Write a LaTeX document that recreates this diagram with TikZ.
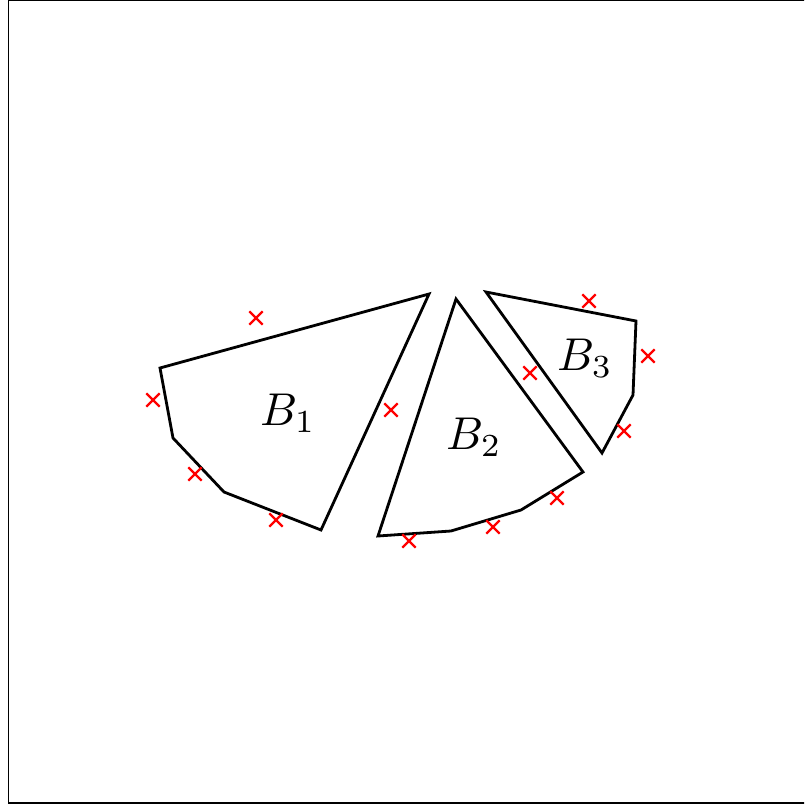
\documentclass[tikz,border=0pt]{standalone}
\usetikzlibrary{shapes.misc}
\begin{document}
\begin{tikzpicture}[x=1pt,y=-1pt,
  poly/.style={draw=black,line width=2.8pt,line join=miter},
  xmark/.style={cross out,draw=red,line width=2.3pt,minimum size=11pt,inner sep=0pt},
  lbl/.style={scale=4.6,inner sep=0pt}]
\useasboundingbox (0,0) rectangle (804,805);
\begin{scope}
\clip (0,0) rectangle (804,805);
\draw[line width=1.3pt] (8.7,0.7) rectangle (820,803);
\end{scope}
% B1
\coordinate (a1) at (160,368);
\coordinate (a2) at (429,294);
\coordinate (a3) at (321,530);
\coordinate (a4) at (224,492);
\coordinate (a5) at (173,438);
\draw[poly] (a1) -- (a2) -- (a3) -- (a4) -- (a5) -- cycle;
% B2
\coordinate (b1) at (456,299);
\coordinate (b2) at (583,472);
\coordinate (b3) at (521,510);
\coordinate (b4) at (451,531);
\coordinate (b5) at (378,536);
\draw[poly] (b1) -- (b2) -- (b3) -- (b4) -- (b5) -- cycle;
% B3
\coordinate (c1) at (486,292);
\coordinate (c2) at (636,321);
\coordinate (c3) at (633,395);
\coordinate (c4) at (602,453);
\draw[poly] (c1) -- (c2) -- (c3) -- (c4) -- cycle;
% labels
\node[lbl] (L1) at (288,413) {$B_1$};
\node[lbl] (L2) at (474,437) {$B_2$};
\node[lbl] (L3) at (585,358) {$B_3$};
% crosses
\node[xmark] (x1) at (256,318) {};
\node[xmark] (x2) at (153,400) {};
\node[xmark] (x3) at (195,474) {};
\node[xmark] (x4) at (276,520) {};
\node[xmark] (x5) at (391,410) {};
\node[xmark] (x6) at (409,541) {};
\node[xmark] (x7) at (493,527) {};
\node[xmark] (x8) at (557,498) {};
\node[xmark] (x9) at (530,373) {};
\node[xmark] (x10) at (589,301) {};
\node[xmark] (x11) at (648,356) {};
\node[xmark] (x12) at (624,431) {};
\end{tikzpicture}
\end{document}
